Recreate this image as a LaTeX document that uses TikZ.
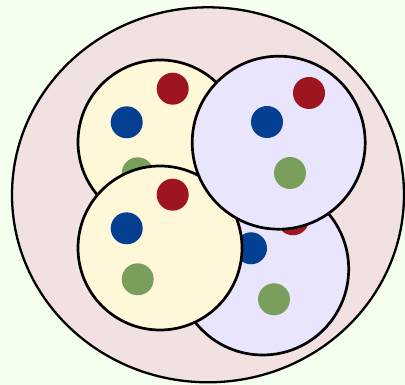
\documentclass[tikz,border=0pt]{standalone}
\usepackage{tikz}
\usetikzlibrary{shapes.geometric}
\definecolor{paperbg}{HTML}{F5FFEE}
\definecolor{paperrose}{HTML}{F2E1E1}
\definecolor{paperyellow}{HTML}{FFF8D8}
\definecolor{paperlavender}{HTML}{E9E5FD}
\definecolor{dotred}{HTML}{9E141F}
\definecolor{dotblue}{HTML}{053F91}
\definecolor{dotgreen}{HTML}{7A9E5B}
\definecolor{ink}{HTML}{000000}

\begin{document}
\begin{tikzpicture}[
  x=1pt,y=1pt,
  outer/.style={ellipse,draw=ink,fill=paperrose,line width=2.3pt,inner sep=0pt,minimum width=392pt,minimum height=375pt},
  ybag/.style={circle,draw=ink,fill=paperyellow,line width=2.7pt,inner sep=0pt,minimum size=164pt},
  lbag/.style={circle,draw=ink,fill=paperlavender,line width=2.7pt,inner sep=0pt,minimum size=173pt},
  dot/.style={circle,inner sep=0pt,minimum size=32pt},
  rdot/.style={dot,fill=dotred},
  bdot/.style={dot,fill=dotblue},
  gdot/.style={dot,fill=dotgreen}
]
  \useasboundingbox (0,0) rectangle (405,385);
  \fill[paperbg] (0,0) rectangle (405,385);

  \node[outer] (whole) at (208,190.2) {};

  % top-left yellow bag
  \node[ybag] (ytop) at (160,243) {};
  \node[rdot,xshift=12.7pt,yshift=53.3pt] (ytopr) at (ytop) {};
  \node[bdot,xshift=-33.3pt,yshift=19.7pt] (ytopb) at (ytop) {};
  \node[gdot,xshift=-22.3pt,yshift=-31.3pt] (ytopg) at (ytop) {};

  % bottom-right lavender bag
  \node[lbag,minimum size=172pt] (lbot) at (262.7,116) {};
  \node[rdot,xshift=30.3pt,yshift=49.7pt] (lbotr) at (lbot) {};
  \node[bdot,xshift=-11.7pt,yshift=20.7pt] (lbotb) at (lbot) {};
  \node[gdot,xshift=11.3pt,yshift=-30.3pt] (lbotg) at (lbot) {};

  % bottom-left yellow bag
  \node[ybag] (ybot) at (160,137) {};
  \node[rdot,xshift=12.7pt,yshift=53.3pt] (ybotr) at (ybot) {};
  \node[bdot,xshift=-33.3pt,yshift=19.7pt] (ybotb) at (ybot) {};
  \node[gdot,xshift=-22.3pt,yshift=-31.3pt] (ybotg) at (ybot) {};

  % top-right lavender bag
  \node[lbag] (ltop) at (278.7,242.3) {};
  \node[rdot,xshift=30.3pt,yshift=49.7pt] (ltopr) at (ltop) {};
  \node[bdot,xshift=-11.7pt,yshift=20.7pt] (ltopb) at (ltop) {};
  \node[gdot,xshift=11.3pt,yshift=-30.3pt] (ltopg) at (ltop) {};
\end{tikzpicture}
\end{document}
